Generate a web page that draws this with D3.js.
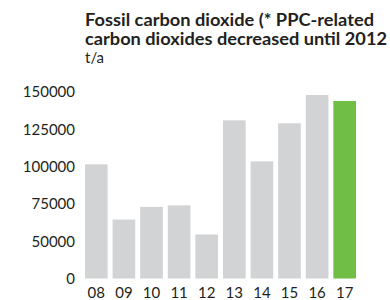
<!DOCTYPE html>
<html>
<head>
<meta charset="utf-8">
<script src="https://cdn.jsdelivr.net/npm/d3@7"></script>
<style>
  body { margin: 0; background: #fff; }
  text { font-family: "Lato", "Open Sans", sans-serif; fill: #231f20; }
</style>
</head>
<body>
<div id="chart"></div>
<script>
const width = 390;
const height = 300;

// data
const years = ["08", "09", "10", "11", "12", "13", "14", "15", "16", "17"];
const values = [101500, 64500, 73000, 74000, 54500, 131000, 103500, 129000, 148000, 144000];
const tickValues = [25000, 50000, 75000, 100000, 125000, 150000];
const tickLabels = ["0", "50000", "75000", "100000", "125000", "150000"];
const titleLines = ["Fossil carbon dioxide (* PPC-related", "carbon dioxides decreased until 2012"];
const unit = "t/a";

const svg = d3.select("#chart")
  .append("svg")
  .attr("width", width)
  .attr("height", height);

// axis starts at 25000 but is labelled "0" (broken axis like the original)
const y = d3.scaleLinear()
  .domain([25000, 150000])
  .range([278.5, 92]);

const x = d3.scaleBand()
  .domain(years)
  .range([85, 356])
  .paddingInner(0.18)
  .paddingOuter(0);

// title
svg.selectAll(".title")
  .data(titleLines)
  .join("text")
  .attr("class", "title")
  .attr("x", 85)
  .attr("y", (d, i) => 25.5 + i * 19)
  .attr("font-size", 16.5)
  .attr("font-weight", 700)
  .attr("textLength", (d, i) => i === 0 ? 289 : 302)
  .attr("lengthAdjust", "spacingAndGlyphs")
  .text(d => d);

svg.append("text")
  .attr("x", 85)
  .attr("y", 63)
  .attr("font-size", 15)
  .text(unit);

// bars
svg.selectAll(".bar")
  .data(values)
  .join("rect")
  .attr("class", "bar")
  .attr("x", (d, i) => x(years[i]))
  .attr("width", x.bandwidth())
  .attr("y", d => y(d))
  .attr("height", d => y.range()[0] - y(d))
  .attr("fill", (d, i) => i === values.length - 1 ? "#70be46" : "#d1d3d4");

// y axis labels
const yAxis = d3.axisLeft(y)
  .tickValues(tickValues)
  .tickFormat((d, i) => tickLabels[i])
  .tickSize(0)
  .tickPadding(0);

svg.append("g")
  .attr("transform", "translate(75,0)")
  .call(yAxis)
  .call(g => g.select(".domain").remove())
  .call(g => g.selectAll("text")
    .attr("font-size", 15)
    .attr("font-family", "Lato, 'Open Sans', sans-serif")
    .attr("fill", "#2b2b2b"));

// x axis labels
const xAxis = d3.axisBottom(x).tickSize(0).tickPadding(0);

svg.append("g")
  .attr("transform", "translate(0,287)")
  .call(xAxis)
  .call(g => g.select(".domain").remove())
  .call(g => g.selectAll("text")
    .attr("dy", "0.71em")
    .attr("font-size", 15)
    .attr("font-family", "Lato, 'Open Sans', sans-serif")
    .attr("fill", "#2b2b2b"));
</script>
</body>
</html>
